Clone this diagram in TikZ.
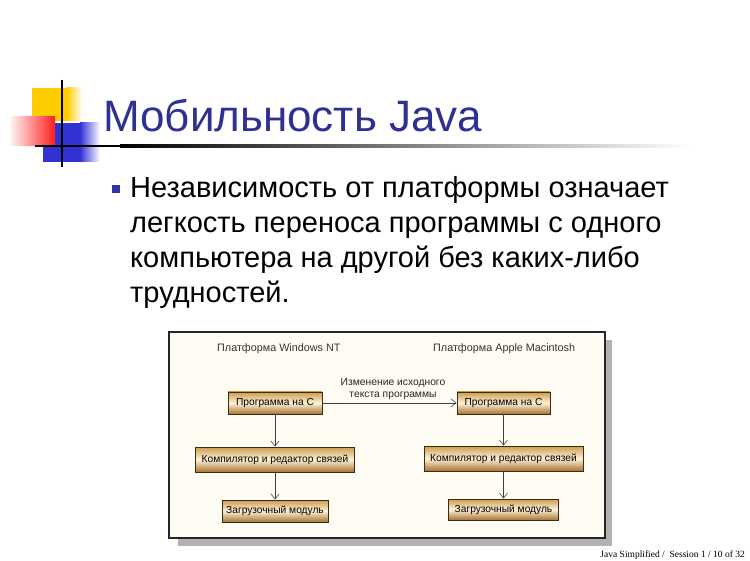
\documentclass[tikz,border=0pt]{standalone}
\usepackage{fontspec}
\setmainfont{Liberation Sans}
\newfontfamily\footserif{Liberation Serif}
\usepackage{tikz}
\usetikzlibrary{arrows.meta}
\definecolor{navy}{RGB}{46,49,146}
\definecolor{dotblue}{RGB}{51,51,170}
\definecolor{cream}{RGB}{255,253,243}
\definecolor{gold}{RGB}{204,156,80}
\definecolor{sand}{RGB}{253,241,215}
\definecolor{umber}{RGB}{166,116,48}
\definecolor{bark}{RGB}{60,42,20}
\definecolor{flame}{RGB}{255,30,30}
\definecolor{sun}{RGB}{255,204,0}
\definecolor{cobalt}{RGB}{50,50,210}

\begin{document}
\begin{tikzpicture}[
  x=1pt, y=-1pt,
  ttl/.style={anchor=base west, inner sep=0pt, text=navy,
              font=\fontsize{44}{52}\selectfont},
  txt/.style={anchor=base west, inner sep=0pt,
              font=\fontsize{29}{34}\selectfont},
  hdr/.style={anchor=base west, inner sep=0pt, text=black!80,
              font=\fontsize{10.8}{13}\selectfont},
  lbl/.style={align=center, inner sep=0pt, text=black!85,
              font=\fontsize{10.3}{12.5}\selectfont},
  blk/.style={draw=bark, line width=0.9pt, top color=gold,
              bottom color=umber, middle color=sand, inner sep=0pt,
              minimum height=22pt, font=\fontsize{10.2}{13}\selectfont},
  flw/.style={draw=black!75, line width=0.6pt,
              -{Straight Barb[length=5pt, width=8pt]}},
  ftr/.style={anchor=base east, inner sep=0pt,
              font=\footserif\fontsize{9.5}{11}\selectfont}]
  \useasboundingbox (0,0) rectangle (750,561);
  \fill[sun] (32,88) rectangle (67,121);
  \shade[left color=sun, right color=white] (67,88) rectangle (82,121);
  \fill[cobalt] (43,123) rectangle (80,162);
  \shade[left color=cobalt, right color=white] (80,123) rectangle (100,162);
  \shade[left color=white, right color=flame] (8,117) rectangle (55,146);
  \draw[line width=2pt] (62,80) -- (62,167);
  \fill[black] (35,145) rectangle (120,147.5);
  \shade[left color=black, right color=white] (120,145) rectangle (690,147.5);
  \node[ttl] (title) at (103,132) {Мобильность Java};
  \node[fill=dotblue, minimum size=8pt, inner sep=0pt] (dot) at (116,189) {};
  \node[txt] (l1) at (130,198) {Независимость от платформы означает};
  \node[txt] (l2) at (130,233) {легкость переноса программы с одного};
  \node[txt] (l3) at (130,268) {компьютера на другой без каких-либо};
  \node[txt] (l4) at (130,303) {трудностей.};
  \fill[black!30] (178,340) rectangle (612,546);
  \draw[fill=cream, draw=black!85, line width=1.5pt] (169,332) rectangle (605,538);
  \node[hdr] (hw) at (217,352) {Платформа Windows NT};
  \node[hdr] (hm) at (433,352) {Платформа Apple Macintosh};
  \node[blk, minimum width=94pt] (pw) at (275,403) {Программа на С};
  \node[blk, minimum width=159pt, minimum height=25pt] (cw) at (275,459.5)
    {Компилятор и редактор связей};
  \node[blk, minimum width=106pt] (lw) at (275,511) {Загрузочный модуль};
  \node[blk, minimum width=93pt] (pm) at (503.5,403) {Программа на С};
  \node[blk, minimum width=159pt, minimum height=25pt] (cm) at (503.5,458.5)
    {Компилятор и редактор связей};
  \node[blk, minimum width=110pt, minimum height=21pt] (lm) at (503.5,509.5)
    {Загрузочный модуль};
  \node[lbl] (chg) at (393,389) {Изменение исходного\\текста программы};
  \draw[flw] (pw) -- (pm);
  \draw[flw] (pw) -- (cw);
  \draw[flw] (cw) -- (lw);
  \draw[flw] (pm) -- (cm);
  \draw[flw] (cm) -- (lm);
  \node[ftr] (ft) at (745,557) {Java Simplified /\ \ Session 1 / 10 of 32};
\end{tikzpicture}
\end{document}
